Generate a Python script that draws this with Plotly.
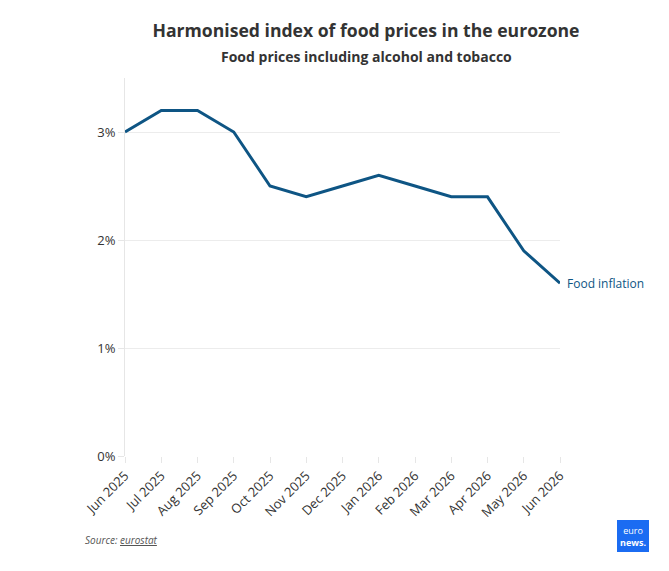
import plotly.graph_objects as go

months = ["Jun 2025", "Jul 2025", "Aug 2025", "Sep 2025", "Oct 2025", "Nov 2025",
          "Dec 2025", "Jan 2026", "Feb 2026", "Mar 2026", "Apr 2026", "May 2026", "Jun 2026"]
food_inflation = [3.0, 3.2, 3.2, 3.0, 2.5, 2.4, 2.5, 2.6, 2.5, 2.4, 2.4, 1.9, 1.6]
y_ticks = [0, 1, 2, 3]
y_labels = ["0%", "1%", "2%", "3%"]

line_color = "#0e5584"
font_family = "Open Sans"

L, R, T, B = 125, 560, 78, 456
PW, PH = R - L, B - T

fig = go.Figure()
fig.add_trace(go.Scatter(
    x=list(range(len(months))), y=food_inflation, mode="lines",
    line=dict(color=line_color, width=3), hoverinfo="skip", showlegend=False,
    cliponaxis=False,
))

fig.add_annotation(x=len(months) - 1, y=food_inflation[-1], text="Food inflation",
                   xref="x", yref="y", xanchor="left", yanchor="middle", xshift=5,
                   showarrow=False, font=dict(family=font_family, size=12, color=line_color))

fig.update_layout(
    width=669, height=571,
    margin=dict(l=L, r=669 - R, t=T, b=571 - B),
    paper_bgcolor="white", plot_bgcolor="white",
    font=dict(family=font_family, color="#333"),
    title=dict(
        text="<b>Harmonised index of food prices in the eurozone</b>",
        x=366 / 669, xanchor="center", xref="container", y=1 - 31 / 571, yanchor="middle",
        font=dict(size=17.6, color="#333", family=font_family),
    ),
    xaxis=dict(
        range=[0, len(months) - 1], tickvals=list(range(len(months))), ticktext=months,
        tickangle=-45, showgrid=False, showline=False, zeroline=False,
        ticks="outside", ticklen=6, tickcolor="#e6e6e6",
        tickfont=dict(size=13, color="#333"),
    ),
    yaxis=dict(
        range=[0, 3.5], tickvals=y_ticks, ticktext=y_labels,
        showgrid=True, gridcolor="#ececec", gridwidth=1,
        showline=True, linecolor="#e6e6e6", linewidth=1,
        zeroline=False, ticks="outside", ticklen=6, tickcolor="#e6e6e6",
        tickfont=dict(size=13, color="#333"),
    ),
)

fig.add_annotation(text="<b>Food prices including alcohol and tobacco</b>",
                   xref="paper", yref="paper", x=(366 - L) / PW, y=1 + (T - 57) / PH,
                   xanchor="center", yanchor="middle", showarrow=False,
                   font=dict(size=14, color="#333", family=font_family))

fig.add_annotation(text="<i>Source: <u>eurostat</u></i>",
                   xref="paper", yref="paper", x=(83 - L) / PW, y=-(540 - B) / PH,
                   xanchor="left", yanchor="middle", showarrow=False,
                   font=dict(size=10, color="#555", family=font_family))

# euronews logo
fig.add_shape(type="rect", xref="paper", yref="paper",
              x0=(617 - L) / PW, x1=(649 - L) / PW,
              y0=-(552 - B) / PH, y1=-(520 - B) / PH,
              fillcolor="#1b6cf2", line=dict(width=0))
fig.add_annotation(text="euro<br><b>news.</b>", xref="paper", yref="paper",
                   x=(633 - L) / PW, y=-(536 - B) / PH, showarrow=False,
                   xanchor="center", yanchor="middle",
                   font=dict(size=9, color="white", family=font_family))

fig.write_html("out.html")
